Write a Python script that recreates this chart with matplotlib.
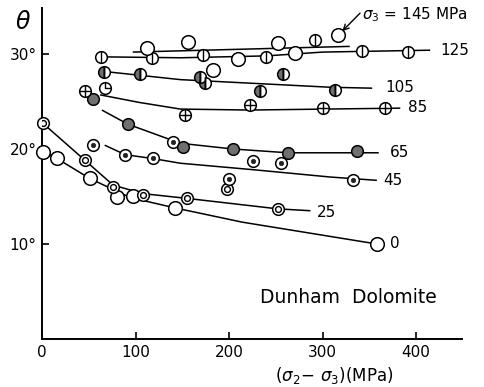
import matplotlib
matplotlib.use('Agg')
import matplotlib.pyplot as plt
from matplotlib.path import Path

# ---------------- data ----------------
# measured points: x = sigma2 - sigma3 (MPa), theta (deg)
x0 = [1, 16, 51, 80, 97, 142, 358]
t0 = [19.7, 19.05, 16.9, 14.9, 15.05, 13.8, 10.0]

x25 = [1, 46, 76, 108, 155, 198, 252]
t25 = [22.7, 18.8, 16.0, 15.2, 14.8, 15.8, 13.7]

x45 = [55, 89, 119, 140, 226, 255, 200, 333]
t45 = [20.4, 19.4, 19.05, 20.7, 18.7, 18.5, 16.8, 16.7]

x65 = [55, 92, 151, 204, 263, 337]
t65 = [25.3, 22.6, 20.2, 20.0, 19.6, 19.8]

x85 = [46, 153, 222, 300, 367]
t85 = [26.1, 23.6, 24.6, 24.3, 24.3]
x85b = [67]
t85b = [26.4]

x105 = [66, 105, 169, 174, 233, 258, 313]
t105 = [28.1, 27.9, 27.6, 26.9, 26.1, 27.9, 26.2]

x125 = [63, 118, 172, 239, 292, 342, 391]
t125 = [29.7, 29.6, 29.9, 29.7, 31.5, 30.3, 30.2]

x145 = [112, 156, 183, 209, 252, 271, 316]
t145 = [30.6, 31.3, 28.3, 29.5, 31.2, 30.1, 32.0]

# hand-drawn trend curves (nodes)
cx0 = [1, 16, 51, 94, 142, 214, 358]
ct0 = [19.7, 19.0, 16.9, 14.9, 13.8, 12.3, 10.0]
cx25 = [1, 46, 76, 108, 155, 252, 287]
ct25 = [22.7, 18.8, 16.2, 15.3, 14.8, 13.7, 13.5]
cx45 = [67, 89, 118, 148, 228, 308, 358]
ct45 = [20.4, 19.4, 19.0, 18.5, 17.8, 17.05, 16.7]
cx65 = [64, 92, 148, 204, 263, 360]
ct65 = [24.1, 22.6, 20.6, 20.0, 19.6, 19.6]
cx85 = [62, 104, 148, 222, 383]
ct85 = [25.7, 24.9, 24.2, 24.1, 24.3]
cx105 = [72, 148, 308, 353]
ct105 = [28.1, 27.3, 26.5, 26.4]
cx125 = [63, 148, 240, 300, 415]
ct125 = [29.7, 29.6, 29.8, 30.2, 30.4]
cx145 = [97, 329]
ct145 = [30.2, 30.8]

curve_labels = ['0', '25', '45', '65', '85', '105', '125']
label_x = [372, 294, 365, 372, 391, 367, 426]
label_t = [10.1, 13.3, 16.7, 19.6, 24.4, 26.5, 30.4]

xticks = [0, 100, 200, 300, 400]
yticks = [10, 20, 30]
ytick_labels = ['10°', '20°', '30°']

# ---------------- figure ----------------
plt.rcParams['font.family'] = ['DejaVu Sans']
fig = plt.figure(figsize=(4.84, 3.87), dpi=100)
ax = fig.add_axes([42/484, 1-339/387, 420/484, 331/387])
ax.set_xlim(0, 449)
ax.set_ylim(0, 34.84)

for s in ['top', 'right']:
    ax.spines[s].set_visible(False)
for s in ['left', 'bottom']:
    ax.spines[s].set_linewidth(1.4)

ax.set_xticks(xticks)
ax.set_xticklabels([str(v) for v in xticks], fontsize=11)
ax.set_yticks(yticks)
ax.set_yticklabels(ytick_labels, fontsize=11)
ax.tick_params(direction='in', length=5, width=1.2, pad=4)

lw = 1.1
for cx, ct in [(cx0, ct0), (cx25, ct25), (cx45, ct45), (cx65, ct65),
               (cx85, ct85), (cx105, ct105), (cx125, ct125), (cx145, ct145)]:
    ax.plot(cx, ct, color='black', lw=lw, zorder=1, solid_capstyle='butt')

ms_big = 9.8
ms = 8.4
grey = '#6f6f6f'
kw = dict(ls='none', mec='black', mew=1.1, zorder=3, clip_on=False)

# 0 : open circles
ax.plot(x0, t0, 'o', ms=ms_big, mfc='white', **kw)
# 25 : double circles
ax.plot(x25, t25, 'o', ms=ms, mfc='white', **kw)
ax.plot(x25, t25, 'o', ms=ms*0.5, mfc='white', ls='none', mec='black', mew=1.0, zorder=4)
# 45 : circle with black dot
ax.plot(x45, t45, 'o', ms=ms, mfc='white', **kw)
ax.plot(x45, t45, 'o', ms=ms*0.38, mfc='#222222', ls='none', mec='#222222', mew=0.5, zorder=4)
# 65 : grey filled
ax.plot(x65, t65, 'o', ms=ms, mfc=grey, **kw)
# 85 : circle with cross
ax.plot(x85, t85, 'o', ms=ms, mfc='white', **kw)
ax.plot(x85, t85, '+', ms=ms, mec='black', mew=1.0, ls='none', zorder=4)
clock = Path([(0, 1), (0, 0), (1, 0)], [Path.MOVETO, Path.LINETO, Path.LINETO])
ax.plot(x85b, t85b, 'o', ms=ms, mfc='white', **kw)
ax.plot(x85b, t85b, marker=clock, ms=ms, mec='black', mew=1.0, mfc='none', ls='none', zorder=4)
# 105 : half filled
ax.plot(x105, t105, 'o', ms=ms, fillstyle='left', mfc=grey, mfcalt='white', **kw)
ax.plot(x105, t105, '|', ms=ms, mec='black', mew=1.0, ls='none', zorder=4)
# 125 : circle with vertical bar
ax.plot(x125, t125, 'o', ms=ms, mfc='white', **kw)
ax.plot(x125, t125, '|', ms=ms, mec='black', mew=1.0, ls='none', zorder=4)
# 145 : open circles
ax.plot(x145, t145, 'o', ms=ms_big, mfc='white', **kw)

for lab, lx, lt in zip(curve_labels, label_x, label_t):
    ax.text(lx, lt, lab, fontsize=11, ha='left', va='center')

ax.annotate('', xy=(321, 32.4), xytext=(340, 34.3),
            arrowprops=dict(arrowstyle='->', lw=1.0, color='black',
                            shrinkA=0, shrinkB=0), annotation_clip=False)
ax.text(342, 34.1, r'$\sigma_3$ = 145 MPa', fontsize=11, ha='left', va='center',
        clip_on=False)

ax.text(327, 4.4, 'Dunham  Dolomite', fontsize=13.5, ha='center', va='center')

fig.text(23/484, 1-22/387, r'$\theta$', fontsize=17, ha='center', va='center')
fig.text(334/484, 1-375/387, r'$(\sigma_2\!-\,\sigma_3)$(MPa)', fontsize=12,
         ha='center', va='center')

fig.savefig('out.png', dpi=100)
